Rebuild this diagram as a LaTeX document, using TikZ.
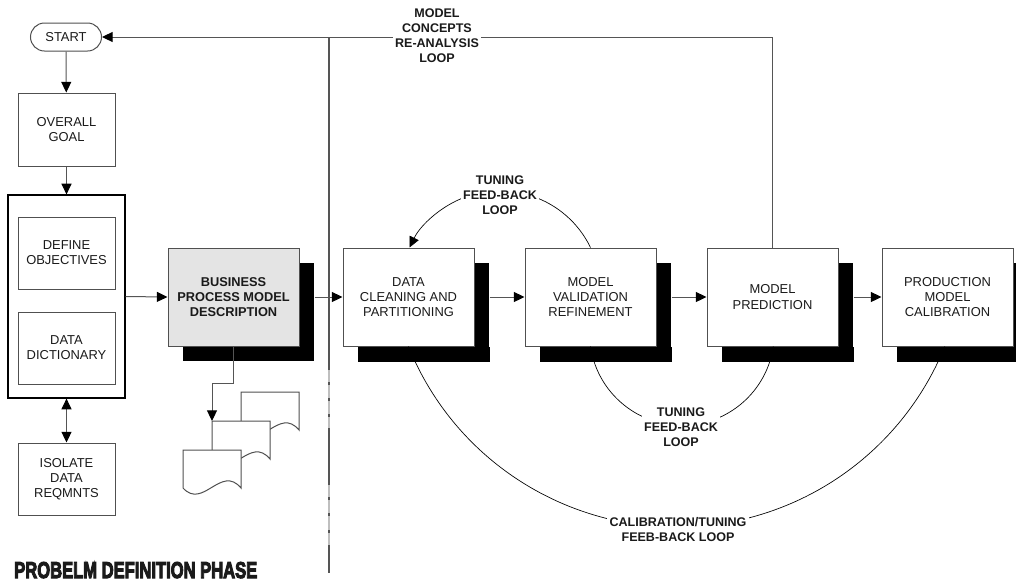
\documentclass[tikz,border=0pt]{standalone}
\usepackage{fontspec}
\setmainfont{Liberation Sans}
\newfontfamily\heavyfont{Liberation Sans}[BoldFeatures={FakeBold=5}]
\usetikzlibrary{arrows.meta,shadows,calc}
\definecolor{boxgray}{HTML}{505050}
\definecolor{lngray}{HTML}{555555}
\definecolor{txt}{HTML}{1A1A1A}
\definecolor{bpmfill}{HTML}{E4E4E4}
\newcommand{\bxfont}{\fontsize{9.7pt}{11.4pt}\selectfont}
\newcommand{\lbfont}{\fontsize{9.4pt}{11.3pt}\selectfont\bfseries}
\newcommand{\docshape}[2]{%
  \filldraw[fill=white, draw=boxgray, line width=0.75pt] (#1,#2) -- (#1+58,#2) -- (#1+58,#2+38)
    .. controls (#1+38,#2+14) and (#1+20,#2+60) .. (#1,#2+38) -- cycle;}
\begin{document}
\begin{tikzpicture}[x=0.75pt,y=-0.75pt,
  box/.style={draw=boxgray, line width=0.75pt, fill=white, inner sep=0pt, align=center,
    font=\bxfont, text=txt, minimum width=97*0.75pt, minimum height=72*0.75pt},
  bigbox/.style={box, minimum width=131*0.75pt, minimum height=98*0.75pt,
    general shadow={fill=black, shadow xshift=11.25pt, shadow yshift=-11.25pt}},
  conn/.style={draw=lngray, line width=0.75pt},
  tip/.tip={Triangle[length=8pt,width=7.5pt,color=black]},
  arr/.style={conn, -tip},
  darr/.style={conn, tip-tip},
  arcline/.style={draw=black, line width=0.5pt},
  lbl/.style={fill=white, inner sep=1.8pt, align=center, font=\lbfont, text=txt}]
\useasboundingbox (0,0) rectangle (1016,583);

% left column
\node[box, rounded corners=10.5pt, minimum width=71*0.75pt, minimum height=28*0.75pt] (start) at (66,37) {START};
\node[box, minimum height=73*0.75pt] (goal) at (66.5,129.5) {OVERALL\\GOAL};
\node[draw=black, line width=0.9pt, fill=white, inner sep=0pt, minimum width=117*0.75pt, minimum height=203*0.75pt] (outer) at (66.5,296.5) {};
\node[box] (defobj) at (66.5,253) {DEFINE\\OBJECTIVES};
\node[box] (dict) at (66.5,348) {DATA\\DICTIONARY};
\node[box] (isolate) at (66.5,479) {ISOLATE\\DATA\\REQMNTS};

% main process boxes
\node[bigbox, fill=bpmfill, font=\fontsize{9.6pt}{11.4pt}\selectfont\bfseries] (bpm) at (233.5,297) {BUSINESS\\PROCESS MODEL\\DESCRIPTION};
\node[bigbox] (dc) at (408.5,297) {DATA\\CLEANING AND\\PARTITIONING};
\node[bigbox] (mv) at (590.5,297) {MODEL\\VALIDATION\\REFINEMENT};
\node[bigbox] (mp) at (772.5,297) {MODEL\\PREDICTION};
\node[bigbox] (prod) at (947.5,297) {PRODUCTION\\MODEL\\CALIBRATION};

% documents
\docshape{241}{392}
\docshape{212}{421}
\docshape{183}{450}
\coordinate (doc2) at (212,421);

% connectors
\draw[arr] (start) -- (goal);
\draw[arr] (goal) -- (outer);
\draw[darr] (outer) -- (isolate);
\draw[arr] (outer.east) -- (bpm.west);
\draw[arr] ([xshift=11.25pt]bpm.east) -- (dc.west);
\draw[arr] ([xshift=11.25pt]dc.east) -- (mv.west);
\draw[arr] ([xshift=11.25pt]mv.east) -- (mp.west);
\draw[arr] ([xshift=11.25pt]mp.east) -- (prod.west);
\draw[arr] (bpm.south) -- ++(0,37) -| (doc2);
\draw[arr] (mp.north) |- (start.east);

% divider
\coordinate (divtop) at (329,37);
\coordinate (divbot) at (329,573);
\draw[draw=lngray, line width=0.9pt] (divtop) -- (329,370);
\draw[draw=black!25, line width=0.9pt] (329,370) -- (329,428);
\draw[draw=lngray, line width=0.9pt] (329,428) -- (329,485);
\draw[draw=black!25, line width=0.9pt] (329,485) -- (329,545);
\draw[draw=lngray, line width=0.9pt] (329,545) -- (divbot);
\foreach \yy in {382,398,414,497,513,530}
  \draw[draw=lngray, line width=0.9pt] (329,\yy) -- (329,\yy+3);

% loops
\draw[arcline, -tip] (mv.north) arc[start angle=-25.9, end angle=-154.1, radius=100.6];
\draw[arcline] (mv.south) arc[start angle=171.6, end angle=8.4, radius=92.4];
\draw[arcline] (dc.south) arc[start angle=157.9, end angle=22.1, radius=289.4];

% shadows hide arc starts
\foreach \n in {dc,mv,mp,prod}
  \fill[black] ([xshift=11.25pt]\n.south west) rectangle ([xshift=11.25pt,yshift=-11.25pt]\n.south east);

% labels
\node[lbl] (l1) at (437,35.5) {MODEL\\CONCEPTS\\RE-ANALYSIS\\LOOP};
\node[lbl] (l2) at (500,195) {TUNING\\FEED-BACK\\LOOP};
\node[lbl] (l3) at (681,427) {TUNING\\FEED-BACK\\LOOP};
\node[lbl] (l4) at (678,529.5) {CALIBRATION/TUNING\\FEEB-BACK LOOP};

\node[anchor=base west, inner sep=0pt, text=txt] (phase) at (14,578)
  {\resizebox{182.25pt}{12pt}{\heavyfont\bfseries PROBELM DEFINITION PHASE}};
\end{tikzpicture}
\end{document}
